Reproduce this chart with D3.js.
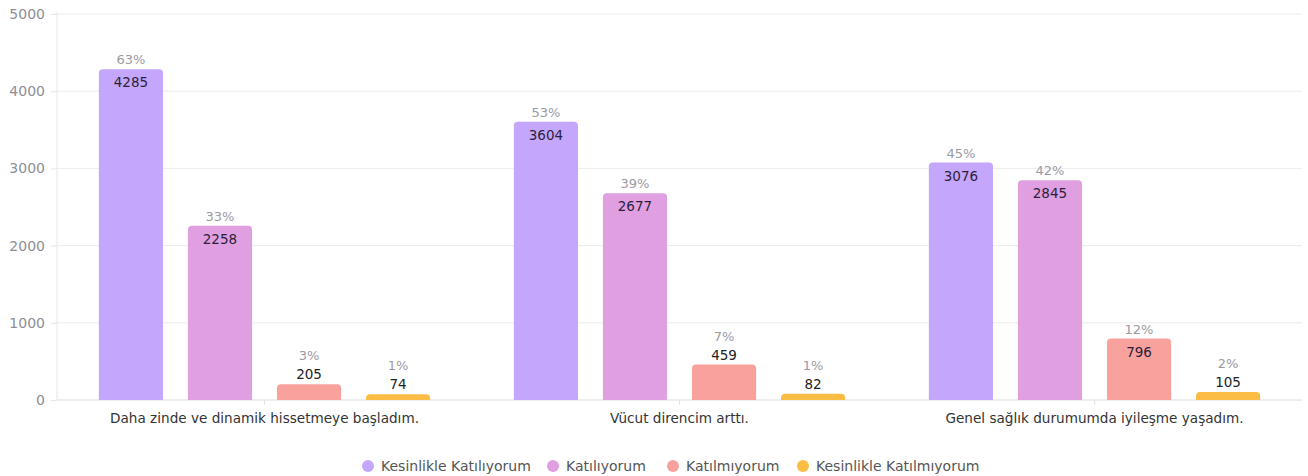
<!DOCTYPE html>
<html>
<head>
<meta charset="utf-8">
<script src="https://cdn.jsdelivr.net/npm/d3@7"></script>
<style>
  html, body { margin: 0; padding: 0; background: #fff; }
  svg { display: block; }
  svg text { font-family: "DejaVu Sans", "Noto Sans", sans-serif; }
</style>
</head>
<body>
<svg id="chart" width="1308" height="476"></svg>
<script>
// Survey statements (x categories)
const categories = [
  "Daha zinde ve dinamik hissetmeye başladım.",
  "Vücut direncim arttı.",
  "Genel sağlık durumumda iyileşme yaşadım."
];
// Answer options (series)
const seriesNames = ["Kesinlikle Katılıyorum", "Katılıyorum", "Katılmıyorum", "Kesinlikle Katılmıyorum"];
const seriesColors = ["#c4a6fc", "#e09fe0", "#f8a19d", "#fbbd45"];
// Counts per statement, in series order
const stronglyAgree = [4285, 3604, 3076];
const agree = [2258, 2677, 2845];
const disagree = [205, 459, 796];
const stronglyDisagree = [74, 82, 105];
// Share labels per statement, in series order
const pctStronglyAgree = ["63%", "53%", "45%"];
const pctAgree = ["33%", "39%", "42%"];
const pctDisagree = ["3%", "7%", "12%"];
const pctStronglyDisagree = ["1%", "1%", "2%"];
const yTicks = [0, 1000, 2000, 3000, 4000, 5000];

const seriesValues = [stronglyAgree, agree, disagree, stronglyDisagree];
const seriesPcts = [pctStronglyAgree, pctAgree, pctDisagree, pctStronglyDisagree];

const svg = d3.select("#chart");
const margin = { left: 57, right: 6, top: 14, bottom: 76 };
const W = 1308, H = 476;
const plotBottom = H - margin.bottom;

const x0 = d3.scaleBand().domain(categories).range([margin.left, W - margin.right]);
const x1 = d3.scaleBand().domain(seriesNames).range([0, x0.bandwidth()])
  .paddingInner(0.28).paddingOuter(0.47);
const y = d3.scaleLinear().domain([0, 5000]).range([plotBottom, margin.top]);
const color = d3.scaleOrdinal().domain(seriesNames).range(seriesColors);

// Horizontal gridlines and y labels
const yAxis = svg.append("g")
  .attr("transform", `translate(${margin.left},0)`)
  .call(d3.axisLeft(y).tickValues(yTicks).tickSize(6).tickPadding(6).tickFormat(d3.format("d")));
yAxis.attr("font-family", null).attr("font-size", null);
yAxis.select(".domain").attr("stroke", "#e6e6ea").attr("d", `M0,${margin.top - 2}V${plotBottom}`);
yAxis.selectAll(".tick line").attr("stroke", "#e6e6ea");
yAxis.selectAll(".tick text").attr("fill", "#8e8e94").style("font-size", "14px");

svg.append("g").selectAll("line").data(yTicks).join("line")
  .attr("x1", margin.left).attr("x2", W - margin.right)
  .attr("y1", d => y(d)).attr("y2", d => y(d))
  .attr("stroke", d => d === 0 ? "#dcdce2" : "#ececef").attr("stroke-width", 1);

// Category axis
const xAxis = svg.append("g")
  .attr("transform", `translate(0,${plotBottom})`)
  .call(d3.axisBottom(x0).tickSize(5).tickPadding(8));
xAxis.attr("font-family", null).attr("font-size", null);
xAxis.select(".domain").remove();
xAxis.selectAll(".tick line").attr("stroke", "#e3e3e8");
xAxis.selectAll(".tick text").attr("fill", "#333").style("font-size", "13.6px");

// Rounded-top bar path
function barPath(x, yTop, w, h, r) {
  r = Math.min(r, h, w / 2);
  return `M${x},${yTop + h}V${yTop + r}Q${x},${yTop} ${x + r},${yTop}H${x + w - r}Q${x + w},${yTop} ${x + w},${yTop + r}V${yTop + h}Z`;
}

const rows = [];
categories.forEach((c, ci) => {
  seriesNames.forEach((s, si) => {
    rows.push({ cat: c, series: s, value: seriesValues[si][ci], pct: seriesPcts[si][ci] });
  });
});

svg.append("g").selectAll("path").data(rows).join("path")
  .attr("d", d => {
    const xx = x0(d.cat) + x1(d.series);
    return barPath(xx, y(d.value), x1.bandwidth(), plotBottom - y(d.value), 4);
  })
  .attr("fill", d => color(d.series));

// Value and share labels: value inside the bar top when there is room, above it otherwise
const labels = svg.append("g").attr("text-anchor", "middle").style("font-size", "13.5px");
rows.forEach(d => {
  const cx = x0(d.cat) + x1(d.series) + x1.bandwidth() / 2;
  const top = y(d.value);
  const inside = plotBottom - top > 40;
  const valueY = inside ? top + 18 : top - 5;
  const pctY = inside ? top - 5 : valueY - 19;
  labels.append("text").attr("x", cx).attr("y", valueY)
    .attr("fill", inside ? "#2a1f3a" : "#222").text(d.value);
  labels.append("text").attr("x", cx).attr("y", pctY)
    .attr("fill", "#9a9aa2").style("font-size", "13px").text(d.pct);
});

// Legend
const legendX = [368, 553, 673, 803];
const legend = svg.append("g").style("font-size", "14px");
seriesNames.forEach((s, i) => {
  const g = legend.append("g").attr("transform", `translate(${legendX[i]},466)`);
  g.append("circle").attr("r", 6).attr("fill", color(s));
  g.append("text").attr("x", 13).attr("dy", "0.35em").attr("fill", "#555").text(s);
});
</script>
</body>
</html>
